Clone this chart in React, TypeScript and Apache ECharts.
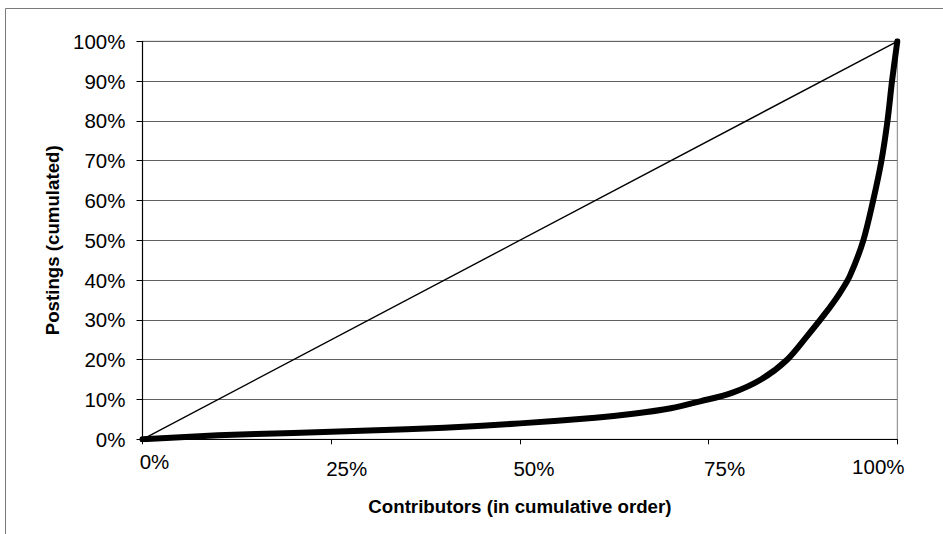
import React, { useEffect, useRef } from "react";
import * as echarts from "echarts";

const contributorsPct = [0, 10, 20, 30, 40, 50, 60, 65, 70, 74, 78, 82, 85.4, 88, 90.4, 92.3, 93.7, 95.5, 96.8, 97.9, 98.7, 99.3, 100];
const postingsPct = [0, 1.0, 1.6, 2.2, 2.9, 4.0, 5.4, 6.4, 7.8, 9.6, 11.6, 15.1, 20, 25.8, 31.5, 36.5, 41, 50, 60, 70, 80, 90, 100];
const equalityX = [0, 100];
const equalityY = [0, 100];
const xTickLabels = ["0%", "25%", "50%", "75%", "100%"];

const FONT = "'Liberation Sans', Arial, sans-serif";

export default function App() {
  const ref = useRef<HTMLDivElement>(null);
  useEffect(() => {
    if (!ref.current) return;
    const chart = echarts.init(ref.current, null, { renderer: "svg" });
    const labelFont = { fontFamily: FONT, fontSize: 20.5, color: "#000" };
    chart.setOption({
      animation: false,
      backgroundColor: "#fff",
      textStyle: { fontFamily: FONT },
      graphic: [
        {
          type: "rect",
          z: -10,
          silent: true,
          shape: { x: 5.5, y: 8.5, width: 1200, height: 1200 },
          style: { fill: "none", stroke: "#7a7a7a", lineWidth: 1 },
        },
      ],
      grid: {
        left: 142.5,
        right: 45.7,
        top: 41.3,
        bottom: 94.7,
        show: true,
        borderColor: "#808080",
        borderWidth: 1,
        backgroundColor: "transparent",
      },
      xAxis: {
        type: "value",
        min: 0,
        max: 100,
        interval: 25,
        name: "Contributors (in cumulative order)",
        nameLocation: "middle",
        nameGap: 58,
        nameTextStyle: { fontFamily: FONT, fontSize: 18.7, fontWeight: "bold", color: "#000" },
        axisLine: { show: true, lineStyle: { color: "#000", width: 1.2 } },
        axisTick: { show: true, length: 5, lineStyle: { color: "#000" } },
        splitLine: { show: false },
        axisLabel: {
          ...labelFont,
          margin: 12,
          verticalAlign: "top",
          formatter: (v: number) => {
            const idx = Math.round(v / 25);
            return `{l${idx}|${xTickLabels[idx]}}`;
          },
          rich: {
            l0: { ...labelFont, padding: [0, 0, 0, 24] },
            l1: { ...labelFont, padding: [7, 0, 0, 31] },
            l2: { ...labelFont, padding: [7, 0, 0, 28] },
            l3: { ...labelFont, padding: [7, 0, 0, 32] },
            l4: { ...labelFont, padding: [5, 38, 0, 0] },
          },
        },
      },
      yAxis: {
        type: "value",
        min: 0,
        max: 100,
        interval: 10,
        name: "Postings (cumulated)",
        nameLocation: "middle",
        nameGap: 80,
        nameTextStyle: { fontFamily: FONT, fontSize: 18.7, fontWeight: "bold", color: "#000" },
        axisLine: { show: true, lineStyle: { color: "#000", width: 1.2 } },
        axisTick: { show: true, length: 6, lineStyle: { color: "#000" } },
        splitLine: { show: true, lineStyle: { color: "#606060", width: 1 } },
        axisLabel: { ...labelFont, margin: 17, formatter: "{value}%" },
      },
      series: [
        {
          type: "line",
          data: equalityX.map((x, i) => [x, equalityY[i]]),
          showSymbol: false,
          lineStyle: { color: "#000", width: 1.4 },
          z: 3,
        },
        {
          type: "line",
          data: contributorsPct.map((x, i) => [x, postingsPct[i]]),
          showSymbol: false,
          smooth: 0.3,
          lineStyle: { color: "#000", width: 6, cap: "round", join: "round" },
          z: 4,
        },
      ],
    });
    return () => chart.dispose();
  }, []);
  return (
    <div
      ref={ref}
      style={{ position: "fixed", left: 0, top: 0, width: 943, height: 534, background: "#fff" }}
    />
  );
}
